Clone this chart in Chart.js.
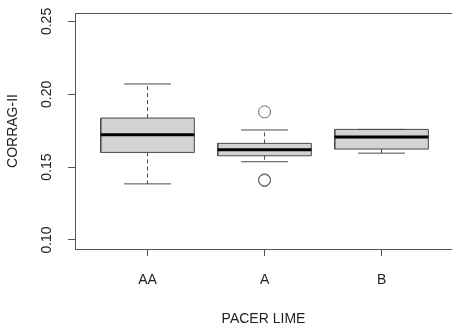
<!DOCTYPE html>
<html>
<head>
<meta charset="utf-8">
<script src="https://cdn.jsdelivr.net/npm/chart.js@4.4.1/dist/chart.umd.min.js"></script>
<style>
  body { margin: 0; background: #fff; }
</style>
</head>
<body>
<canvas id="myChart" width="452" height="329"></canvas>
<script>
// boxplot stats
const groups = ['AA', 'A', 'B'];
const lowerWhisker = [0.1385, 0.1537, 0.1596];
const q1 = [0.1601, 0.1578, 0.1624];
const median = [0.1722, 0.1619, 0.1706];
const q3 = [0.1837, 0.1663, 0.1759];
const upperWhisker = [0.2071, 0.1755, 0.1759];
// outliers: group position (1-based) and value
const outlierPos = [2, 2, 2];
const outlierValues = [0.1879, 0.1413, 0.1408];
const yTicks = [0.10, 0.15, 0.20, 0.25];

const boxHalf = 0.4;
const capHalf = 0.2;
const lineCol = '#4a4a4a';

function seg(x1, y1, x2, y2) {
  return [{x: x1, y: y1}, {x: x2, y: y2}];
}

var datasets = [];
groups.forEach(function (g, i) {
  var x = i + 1;
  // box fill
  datasets.push({
    data: seg(x - boxHalf, q3[i], x + boxHalf, q3[i]),
    showLine: true, borderWidth: 0, pointRadius: 0,
    fill: {value: q1[i]}, backgroundColor: '#d3d3d3', order: 4
  });
  // dashed whiskers
  if (upperWhisker[i] > q3[i]) {
    datasets.push({
      data: seg(x, q3[i], x, upperWhisker[i]),
      showLine: true, borderWidth: 1, borderColor: lineCol, borderDash: [4, 3], pointRadius: 0, order: 3
    });
  }
  if (lowerWhisker[i] < q1[i]) {
    datasets.push({
      data: seg(x, q1[i], x, lowerWhisker[i]),
      showLine: true, borderWidth: 1, borderColor: lineCol, borderDash: [4, 3], pointRadius: 0, order: 3
    });
  }
  // caps
  datasets.push({
    data: seg(x - capHalf, upperWhisker[i], x + capHalf, upperWhisker[i]),
    showLine: true, borderWidth: 1, borderColor: lineCol, pointRadius: 0, order: 2
  });
  datasets.push({
    data: seg(x - capHalf, lowerWhisker[i], x + capHalf, lowerWhisker[i]),
    showLine: true, borderWidth: 1, borderColor: lineCol, pointRadius: 0, order: 2
  });
  // box outline
  datasets.push({
    data: [
      {x: x - boxHalf, y: q1[i]}, {x: x + boxHalf, y: q1[i]},
      {x: x + boxHalf, y: q3[i]}, {x: x - boxHalf, y: q3[i]},
      {x: x - boxHalf, y: q1[i]}
    ],
    showLine: true, borderWidth: 1, borderColor: lineCol, pointRadius: 0, fill: false, order: 1
  });
  // median
  datasets.push({
    data: seg(x - boxHalf, median[i], x + boxHalf, median[i]),
    showLine: true, borderWidth: 3, borderColor: '#000', pointRadius: 0, order: 0
  });
});

datasets.push({
  data: outlierValues.map(function (v, k) { return {x: outlierPos[k], y: v}; }),
  showLine: false, pointRadius: 6, pointStyle: 'circle',
  pointBorderColor: '#666', pointBackgroundColor: 'rgba(0,0,0,0)', pointBorderWidth: 1, order: 0
});

// top edge of the frame (right edge lies just past the canvas)
const frameTop = {
  id: 'frameTop',
  afterDraw(chart) {
    const a = chart.chartArea, ctx = chart.ctx;
    ctx.save();
    ctx.strokeStyle = '#555';
    ctx.lineWidth = 1;
    ctx.beginPath();
    ctx.moveTo(a.left, a.top + 0.5);
    ctx.lineTo(chart.width, a.top + 0.5);
    ctx.stroke();
    ctx.restore();
  }
};

const font = {family: 'Liberation Sans, Arial, sans-serif', size: 14};

new Chart(document.getElementById('myChart').getContext('2d'), {
  type: 'scatter',
  data: {datasets: datasets},
  plugins: [frameTop],
  options: {
    responsive: false,
    animation: false,
    layout: {autoPadding: false, padding: {left: 5, top: 13, right: 0, bottom: 1}},
    plugins: {legend: {display: false}, tooltip: {enabled: false}},
    scales: {
      x: {
        type: 'linear',
        min: 0.38, max: 3.602,
        afterBuildTicks: function (s) { s.ticks = groups.map(function (g, i) { return {value: i + 1}; }); },
        afterFit: function (s) { s.height = 79; s.paddingLeft = 0; s.paddingRight = 0; },
        ticks: {
          callback: function (v) { return groups[v - 1]; },
          font: font, color: '#222', padding: 16, maxRotation: 0
        },
        grid: {drawOnChartArea: false, drawTicks: true, tickLength: 7, color: '#555'},
        border: {display: true, color: '#555'},
        title: {display: true, text: 'PACER LIME', font: font, color: '#222', padding: {top: 4, bottom: 0}}
      },
      y: {
        type: 'linear',
        min: 0.0938, max: 0.2558,
        afterBuildTicks: function (s) { s.ticks = yTicks.map(function (v) { return {value: v}; }); },
        afterFit: function (s) { s.width = 70; s.paddingTop = 0; s.paddingBottom = 0; },
        ticks: {
          callback: function (v) { return v.toFixed(2); },
          font: font, color: '#222', padding: 7, minRotation: 90, maxRotation: 90, crossAlign: 'center'
        },
        grid: {drawOnChartArea: false, drawTicks: true, tickLength: 7, color: '#555'},
        border: {display: true, color: '#555'},
        title: {display: true, text: 'CORRAG-II', font: font, color: '#222', padding: {top: 0, bottom: 10}}
      }
    }
  }
});
</script>
</body>
</html>
